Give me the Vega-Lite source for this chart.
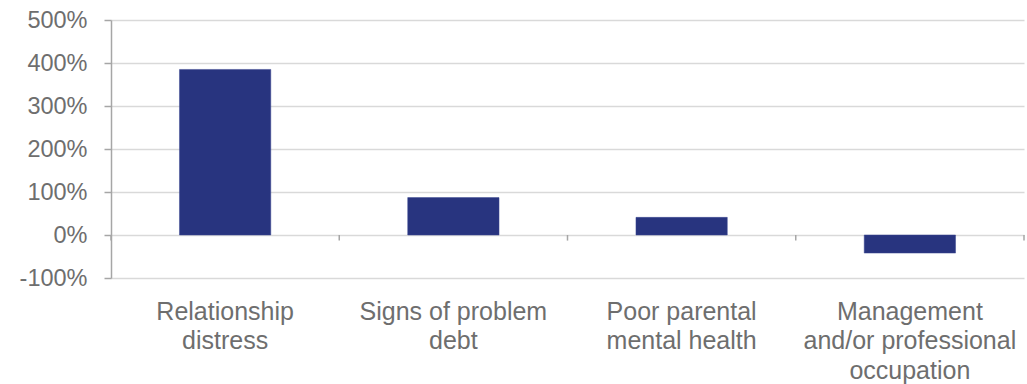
{
  "$schema": "https://vega.github.io/schema/vega-lite/v6.json",
  "autosize": "none",
  "width": 913,
  "height": 258,
  "padding": {"left": 111, "top": 20, "right": 3, "bottom": 106},
  "background": "white",
  "config": {
    "font": "Liberation Sans",
    "view": {"stroke": null},
    "axis": {"labelFont": "Liberation Sans", "labelColor": "#6e6e6e", "labelFontSize": 24, "labelLimit": 0}
  },
  "layer": [
    {
      "data": {"values": [
        {"cat": "Relationship|distress", "value": 3.85},
        {"cat": "Signs of problem|debt", "value": 0.87},
        {"cat": "Poor parental|mental health", "value": 0.41},
        {"cat": "Management|and/or professional|occupation", "value": -0.42}
      ]},
      "mark": {"type": "bar", "color": "#28347f", "stroke": "#3a4790", "strokeWidth": 0.5},
      "encoding": {
        "x": {
          "field": "cat", "type": "nominal", "sort": null,
          "scale": {"paddingInner": 0.6, "paddingOuter": 0.3},
          "axis": {
            "title": null, "orient": "bottom", "domain": false, "ticks": false,
            "labelAngle": 0, "labelPadding": 21, "labelLineHeight": 29.5,
            "labelFontSize": 25, "labelLimit": 0, "labelOverlap": false,
            "labelExpr": "split(datum.value, '|')", "labelBaseline": "top"
          }
        },
        "y": {
          "field": "value", "type": "quantitative",
          "scale": {"domain": [-1, 5], "nice": false, "zero": false},
          "axis": {
            "title": null, "format": ".0%", "values": [-1, 0, 1, 2, 3, 4, 5],
            "labelExpr": "replace(datum.label, '\u2212', '-')",
            "labelFontSize": 23.5,
            "domainColor": "#a6a6a6", "domainWidth": 1.5,
            "tickColor": "#a6a6a6", "tickSize": 7, "tickWidth": 1.5,
            "labelPadding": 17, "gridColor": "#d9d9d9", "gridWidth": 1.5
          }
        }
      }
    },
    {
      "mark": {"type": "rule", "color": "#a6a6a6", "strokeWidth": 2},
      "encoding": {"y": {"datum": 0, "type": "quantitative"}}
    },
    {
      "data": {"values": [{"b": 0}, {"b": 1}, {"b": 2}, {"b": 3}, {"b": 4}]},
      "mark": {"type": "rule", "color": "#a6a6a6", "strokeWidth": 1.5},
      "encoding": {
        "x": {"field": "b", "type": "quantitative", "scale": {"domain": [0, 4], "nice": false}, "axis": null},
        "y": {"datum": 0, "type": "quantitative"},
        "y2": {"datum": -0.13}
      }
    }
  ],
  "resolve": {"scale": {"x": "independent"}, "axis": {"x": "independent"}}
}
